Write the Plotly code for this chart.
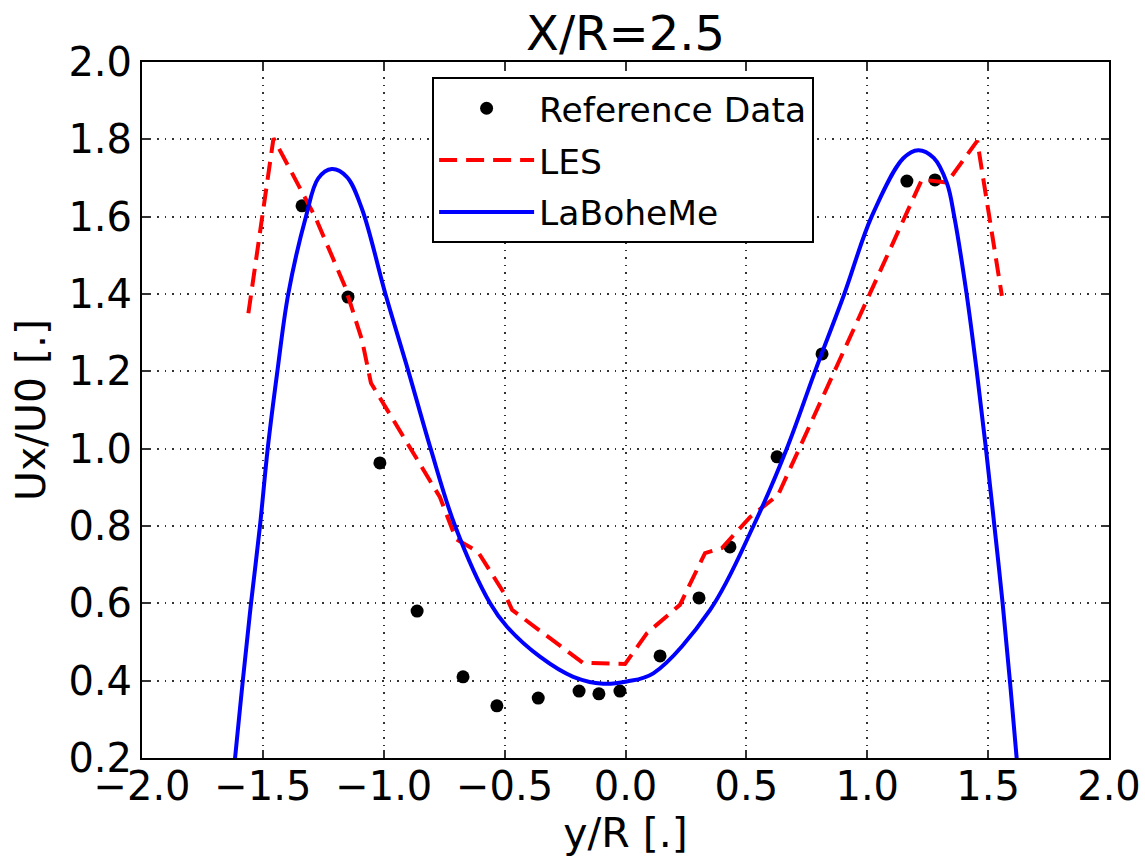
import plotly.graph_objects as go

# Reference data (black dots)
ref_x = [-1.338, -1.148, -1.016, -0.862, -0.672, -0.532, -0.361, -0.192, -0.110, -0.023,
         0.143, 0.304, 0.432, 0.627, 0.813, 1.164, 1.280]
ref_y = [1.628, 1.392, 0.963, 0.580, 0.410, 0.335, 0.355, 0.373, 0.366, 0.373,
         0.464, 0.614, 0.746, 0.979, 1.245, 1.692, 1.695]

# LES (red dashed)
les_x = [-1.560, -1.456, -1.284, -1.160, -1.090, -1.053, -0.768, -0.701, -0.610, -0.498,
         -0.469, -0.176, -0.002, 0.089, 0.225, 0.329, 0.399, 0.515, 0.631, 1.226,
         1.330, 1.455, 1.557]
les_y = [1.350, 1.803, 1.600, 1.419, 1.281, 1.170, 0.875, 0.766, 0.733, 0.622,
         0.583, 0.446, 0.443, 0.523, 0.596, 0.730, 0.743, 0.823, 0.880, 1.696,
         1.688, 1.796, 1.395]

# LaBoheMe (blue solid)
lab_x = [-1.623, -1.615, -1.583, -1.549, -1.512, -1.480, -1.440, -1.395, -1.322, -1.271,
         -1.215, -1.153, -1.090, -0.993, -0.898, -0.806, -0.705, -0.560, -0.491,
         -0.354, -0.216, -0.092, 0.005, 0.115, 0.350, 0.529, 0.667,
         0.784, 0.905, 1.018, 1.149, 1.211, 1.275, 1.330, 1.360, 1.411, 1.453,
         1.491, 1.526, 1.560, 1.590, 1.618, 1.625]
lab_y = [0.150, 0.200, 0.400, 0.600, 0.800, 1.000, 1.200, 1.400, 1.600, 1.699,
         1.723, 1.703, 1.620, 1.400, 1.200, 1.000, 0.800, 0.600, 0.540,
         0.462, 0.410, 0.392, 0.398, 0.419, 0.583, 0.800, 1.000,
         1.200, 1.400, 1.600, 1.751, 1.772, 1.752, 1.686, 1.600, 1.400, 1.200,
         1.000, 0.800, 0.600, 0.400, 0.200, 0.150]

x_ticks = [-2.0, -1.5, -1.0, -0.5, 0.0, 0.5, 1.0, 1.5, 2.0]
y_ticks = [0.2, 0.4, 0.6, 0.8, 1.0, 1.2, 1.4, 1.6, 1.8, 2.0]

fig = go.Figure()
fig.add_trace(go.Scatter(x=ref_x, y=ref_y, mode="markers", name="Reference Data",
                         marker=dict(color="black", size=13), legendgroup="a"))
fig.add_trace(go.Scatter(x=les_x, y=les_y, mode="lines", name="LES",
                         line=dict(color="#ff0000", width=4, dash="18px,9px"), legendgroup="b"))
fig.add_trace(go.Scatter(x=lab_x, y=lab_y, mode="lines", name="LaBoheMe",
                         line=dict(color="#0000ff", width=4, shape="spline", smoothing=1.0),
                         legendgroup="c"))

axis_common = dict(
    showline=True, linecolor="black", linewidth=2, mirror="ticks",
    ticks="inside", ticklen=8, tickwidth=1.5, tickcolor="#333",
    showgrid=True, gridcolor="#333", griddash="1.5px,6px", gridwidth=1.5,
    zeroline=False, tickfont=dict(size=40, family="DejaVu Sans", color="black"),
    tickformat=".1f", automargin=False,
)

fig.update_xaxes(range=[-2, 2], tickvals=x_ticks, **axis_common, ticklabelstandoff=-8,
                 title=dict(text="y/R [.]", font=dict(size=41, family="DejaVu Sans"), standoff=4))
fig.update_yaxes(range=[0.2, 2.0], tickvals=y_ticks, **axis_common,
                 title=dict(text="Ux/U0 [.]", font=dict(size=41, family="DejaVu Sans"), standoff=10))

fig.update_layout(
    width=1145, height=860,
    margin=dict(l=142, r=36, t=62, b=102),
    plot_bgcolor="white", paper_bgcolor="white",
    font=dict(family="DejaVu Sans", color="black"),
    title=dict(text="X/R=2.5", font=dict(size=48, family="DejaVu Sans", color="black"),
               x=0.5, xref="paper", xanchor="center", y=1 - 33 / 860, yref="container",
               yanchor="middle"),
    legend=dict(x=0.300, y=0.978, xanchor="left", yanchor="top",
                bgcolor="white", bordercolor="black", borderwidth=2,
                font=dict(size=34.5, family="DejaVu Sans", color="black"),
                tracegroupgap=4, itemwidth=95),
    showlegend=True,
)

fig.write_html("out.html")
